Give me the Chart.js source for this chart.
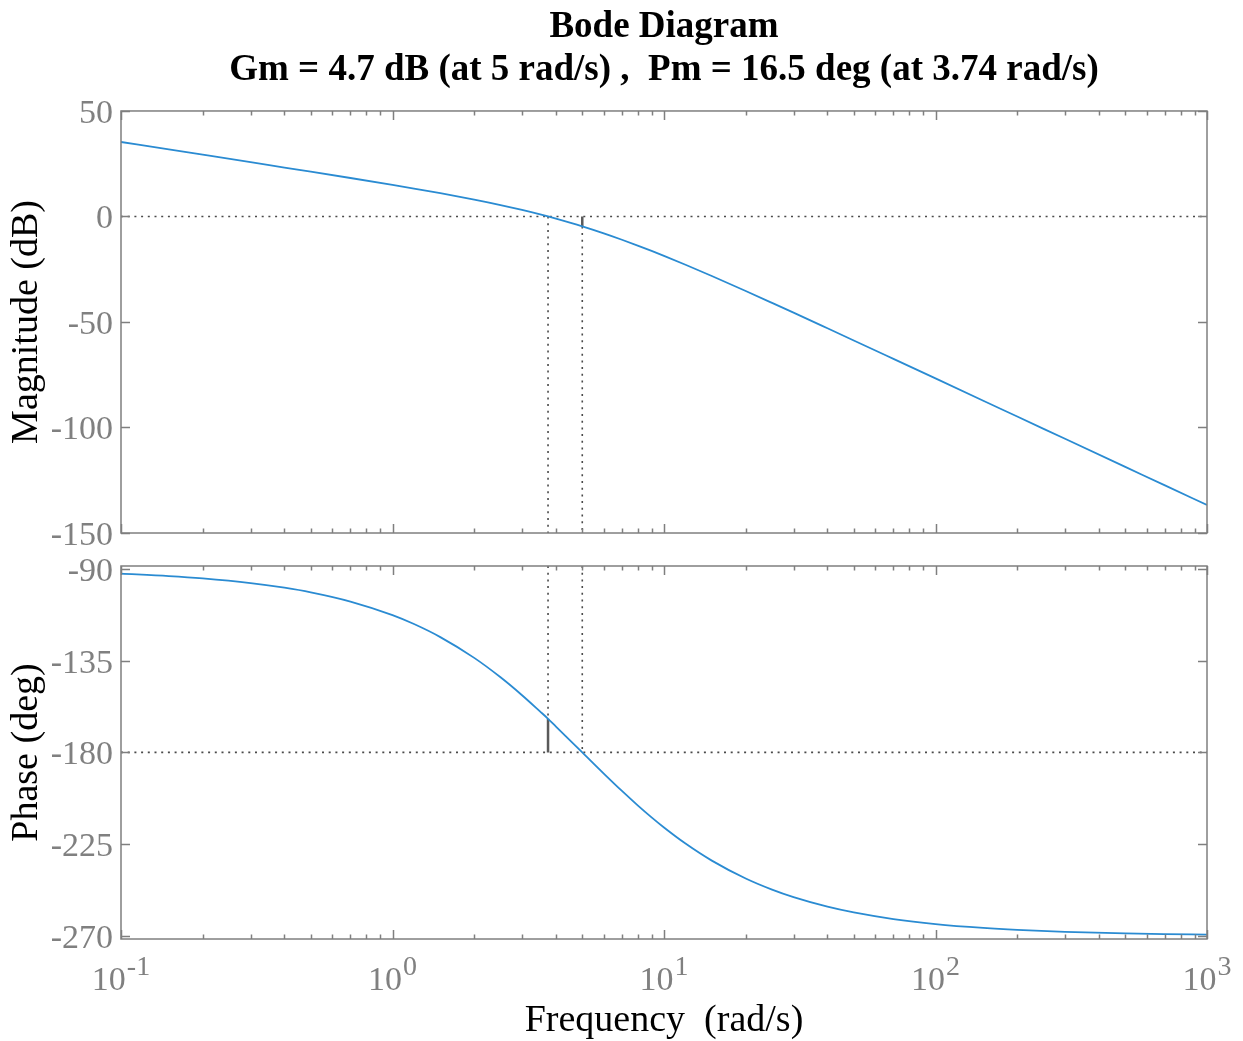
<!DOCTYPE html>
<html>
<head>
<meta charset="utf-8">
<title>Bode Diagram</title>
<script src="https://cdn.jsdelivr.net/npm/chart.js@4.4.1/dist/chart.umd.min.js"></script>
<style>
  html, body { margin: 0; padding: 0; background: #fff; }
  #wrap { position: relative; width: 1243px; height: 1041px; }
  canvas { position: absolute; left: 0; }
  #mag-canvas { top: 0; }
  #phase-canvas { top: 550px; }
</style>
</head>
<body>
<div id="wrap">
  <canvas id="mag-canvas" width="1243" height="550"></canvas>
  <canvas id="phase-canvas" width="1243" height="491"></canvas>
</div>
<script>
"use strict";

// values (rad/s, dB, deg)
const freq = [0.1, 0.15, 0.2, 0.3, 0.4, 0.5, 0.7, 1, 1.2, 1.5, 2, 2.5, 3, 3.5, 3.74, 4, 5, 6, 7, 8, 9,
    10, 12, 15, 20, 25, 30, 40, 50, 70, 100, 150, 200, 300, 500, 700, 1000];
const magDb = [35.31, 31.78, 29.28, 25.74, 23.20, 21.25, 18.24, 14.97, 13.24, 11.04, 8.00, 5.42, 3.10, 0.97, 0.0, -1.03, -4.69, -8.00, -11.02, -13.78, -16.32,
    -18.67, -22.87, -28.21, -35.32, -40.95, -45.59, -52.99, -58.75, -67.48, -76.75, -87.30, -94.80, -105.36, -118.67, -127.44, -136.73];
const phaseDeg = [-92.29, -93.44, -94.58, -96.87, -99.15, -101.42, -105.94, -112.62, -116.99, -123.40, -133.60, -143.13, -151.93, -159.98, -163.5, -167.32, -180.0, -190.39, -198.92, -205.99, -211.89,
    -216.87, -224.76, -233.13, -241.93, -247.38, -251.08, -255.75, -258.58, -261.83, -264.28, -266.18, -267.14, -268.09, -268.85, -269.18, -269.43];

const xMajor = [0.1, 1, 10, 100, 1000];
const xExponents = ["-1", "0", "1", "2", "3"];
const magTicks = [-150, -100, -50, 0, 50];
const phaseTicks = [-270, -225, -180, -135, -90];
const magRange = [-150, 50];
const phaseRange = [-271.6, -88.5];

const gmFreq = 5, gmDb = -4.7;
const pmFreq = 3.74, pmPhase = -163.5;

const titleLines = ["Bode Diagram", "Gm = 4.7 dB (at 5 rad/s) ,  Pm = 16.5 deg (at 3.74 rad/s)"];
const magLabel = "Magnitude (dB)";
const phaseLabel = "Phase (deg)";
const freqLabel = "Frequency  (rad/s)";

const SERIF = "'Liberation Serif', 'Times New Roman', serif";
const LINE_BLUE = "#2a8bd2";
const AXIS_GRAY = "#7f7f7f";
const TEXT_GRAY = "#808080";
const DOT_GRAY = "#4a4a4a";

const xMinor = [];
for (const d of xMajor.slice(0, -1)) {
    for (let k = 2; k <= 9; k++) xMinor.push(d * k);
}

function pts(xs, ys) {
    return xs.map((x, i) => ({ x: x, y: ys[i] }));
}

function dotted(data) {
    return { data: data, borderColor: DOT_GRAY, borderWidth: 1.6, borderDash: [2, 4.7],
        borderCapStyle: "butt", pointRadius: 0, tension: 0 };
}

function solid(data) {
    return { data: data, borderColor: "#5a5a5a", borderWidth: 2.5, pointRadius: 0, tension: 0 };
}

function curve(data) {
    return { data: data, borderColor: LINE_BLUE, borderWidth: 1.8, pointRadius: 0,
        cubicInterpolationMode: "monotone" };
}

// box round the axes plus inward ticks on all four sides, matlab style
const boxTicks = {
    id: "boxTicks",
    afterDatasetsDraw(chart) {
        const { ctx, chartArea: a, scales } = chart;
        const xs = scales.x, ys = scales.y;
        ctx.save();
        ctx.strokeStyle = AXIS_GRAY;
        ctx.lineWidth = 1.5;
        ctx.beginPath();
        for (const v of xMajor) {
            const px = Math.round(xs.getPixelForValue(v)) + 0.5;
            ctx.moveTo(px, a.bottom); ctx.lineTo(px, a.bottom - 9);
            ctx.moveTo(px, a.top); ctx.lineTo(px, a.top + 9);
        }
        for (const v of xMinor) {
            const px = Math.round(xs.getPixelForValue(v)) + 0.5;
            ctx.moveTo(px, a.bottom); ctx.lineTo(px, a.bottom - 4.5);
            ctx.moveTo(px, a.top); ctx.lineTo(px, a.top + 4.5);
        }
        for (const t of ys.ticks) {
            const py = Math.round(ys.getPixelForValue(t.value)) + 0.5;
            ctx.moveTo(a.left, py); ctx.lineTo(a.left + 9, py);
            ctx.moveTo(a.right, py); ctx.lineTo(a.right - 9, py);
        }
        ctx.stroke();
        ctx.strokeRect(a.left, a.top, a.right - a.left, a.bottom - a.top);
        ctx.restore();
    }
};

// 10^n labels under the phase plot
const decadeLabels = {
    id: "decadeLabels",
    afterDraw(chart) {
        const { ctx, chartArea: a, scales } = chart;
        const baseY = a.bottom + 51;
        ctx.save();
        ctx.fillStyle = TEXT_GRAY;
        ctx.textBaseline = "alphabetic";
        ctx.textAlign = "left";
        xMajor.forEach((v, i) => {
            const sup = xExponents[i];
            ctx.font = "34px " + SERIF;
            const wb = ctx.measureText("10").width;
            ctx.font = "28px " + SERIF;
            const ws = ctx.measureText(sup).width;
            const left = scales.x.getPixelForValue(v) - (wb + ws + 1) / 2;
            ctx.font = "34px " + SERIF;
            ctx.fillText("10", left, baseY);
            ctx.font = "28px " + SERIF;
            ctx.fillText(sup, left + wb + 1, baseY - 15);
        });
        ctx.restore();
    }
};

function yAxis(range, ticks, label) {
    return {
        type: "linear",
        position: "left",
        min: range[0],
        max: range[1],
        afterBuildTicks(s) { s.ticks = ticks.map(v => ({ value: v })); },
        afterFit(s) {
            s.width = 121;
            s.paddingTop = 0;
            s.paddingBottom = 0;
        },
        grid: { display: false, drawTicks: false },
        border: { display: false },
        ticks: {
            color: TEXT_GRAY,
            padding: 8,
            labelOffset: 3,
            font: { family: SERIF, size: 34 },
            callback: v => String(v),
        },
        title: {
            display: true,
            text: label,
            color: "#000",
            font: { family: SERIF, size: 38, lineHeight: 1.2 },
            padding: { top: 4, bottom: 0 },
        },
    };
}

function xAxis(height, label) {
    const axis = {
        type: "logarithmic",
        position: "bottom",
        min: xMajor[0],
        max: xMajor[xMajor.length - 1],
        afterFit(s) {
            s.height = height;
            s.paddingLeft = 0;
            s.paddingRight = 0;
        },
        grid: { display: false, drawTicks: false },
        border: { display: false },
        ticks: { display: false },
        title: { display: false },
    };
    if (label) {
        axis.title = {
            display: true,
            text: label,
            color: "#000",
            font: { family: SERIF, size: 38, lineHeight: 1.05 },
            padding: { top: 0, bottom: 0 },
        };
    }
    return axis;
}

function createCharts() {
    const xMin = xMajor[0], xMax = xMajor[xMajor.length - 1];

    const magContext = document.getElementById("mag-canvas").getContext("2d");
    new Chart(magContext, {
        type: "line",
        data: {
            datasets: [
                curve(pts(freq, magDb)),
                dotted([{ x: xMin, y: 0 }, { x: xMax, y: 0 }]),
                dotted([{ x: pmFreq, y: 0 }, { x: pmFreq, y: magRange[0] }]),
                dotted([{ x: gmFreq, y: gmDb }, { x: gmFreq, y: magRange[0] }]),
                solid([{ x: gmFreq, y: 0 }, { x: gmFreq, y: gmDb }]),
            ],
        },
        options: {
            responsive: false,
            animation: false,
            parsing: false,
            layout: { padding: { top: 0, left: 0, right: 36, bottom: 17 } },
            plugins: {
                legend: { display: false },
                tooltip: { enabled: false },
                title: {
                    display: true,
                    text: titleLines,
                    color: "#000",
                    fullSize: false,
                    font: { family: SERIF, size: 37, weight: "bold", lineHeight: 1.17 },
                    padding: { top: 6, bottom: 18.4 },
                },
            },
            scales: {
                x: xAxis(0, null),
                y: yAxis(magRange, magTicks, magLabel),
            },
        },
        plugins: [boxTicks],
    });

    const phaseContext = document.getElementById("phase-canvas").getContext("2d");
    new Chart(phaseContext, {
        type: "line",
        data: {
            datasets: [
                curve(pts(freq, phaseDeg)),
                dotted([{ x: xMin, y: -180 }, { x: xMax, y: -180 }]),
                dotted([{ x: pmFreq, y: phaseRange[1] }, { x: pmFreq, y: pmPhase }]),
                dotted([{ x: gmFreq, y: phaseRange[1] }, { x: gmFreq, y: -180 }]),
                solid([{ x: pmFreq, y: pmPhase }, { x: pmFreq, y: -180 }]),
            ],
        },
        options: {
            responsive: false,
            animation: false,
            parsing: false,
            layout: { padding: { top: 16, left: 0, right: 36, bottom: 0 } },
            plugins: {
                legend: { display: false },
                tooltip: { enabled: false },
            },
            scales: {
                x: xAxis(102, freqLabel),
                y: yAxis(phaseRange, phaseTicks, phaseLabel),
            },
        },
        plugins: [boxTicks, decadeLabels],
    });
}

function setUp() {
    const loads = ["34px 'Liberation Serif'", "bold 37px 'Liberation Serif'"].map(f => document.fonts.load(f));
    Promise.all(loads).then(createCharts, createCharts);
}
setUp();
</script>
</body>
</html>
